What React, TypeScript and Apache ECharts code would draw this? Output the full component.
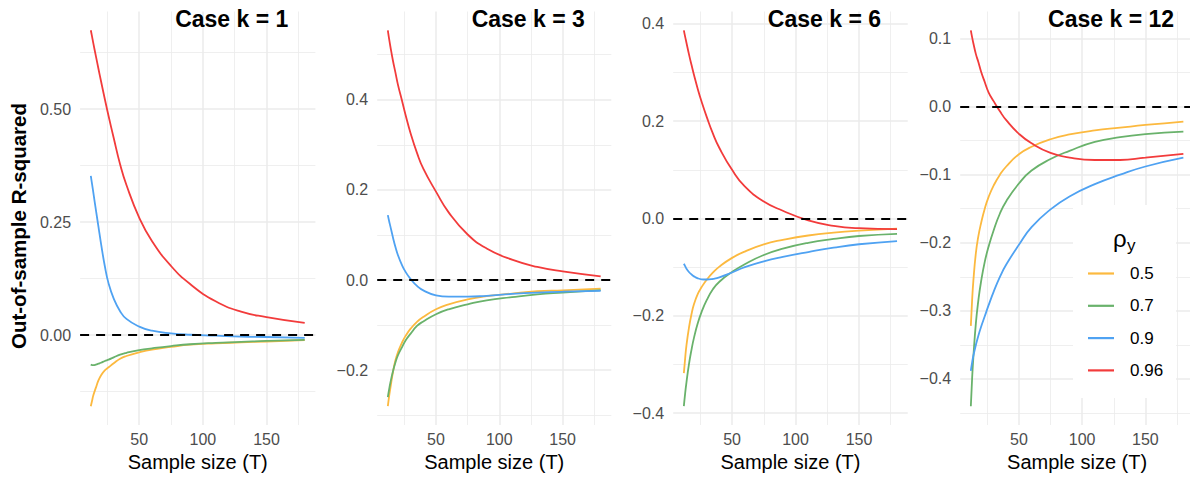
import React, { useEffect, useRef } from "react";
import * as echarts from "echarts";

// Sample sizes at which the curves were read
const T = [12, 13, 14, 16, 18, 20, 23, 26, 30, 35, 40, 50, 60, 75, 90, 110, 130, 150, 180];

const rhoLabels = ["0.5", "0.7", "0.9", "0.96"];
const caseTitles = ["Case k = 1", "Case k = 3", "Case k = 6", "Case k = 12"];

// Case k = 1
const k1_r05 = [-0.157, -0.145, -0.133, -0.116, -0.1, -0.089, -0.078, -0.071, -0.062, -0.052, -0.046, -0.038, -0.032, -0.026, -0.021, -0.018, -0.016, -0.014, -0.011];
const k1_r07 = [-0.065, -0.066, -0.066, -0.065, -0.063, -0.061, -0.057, -0.054, -0.049, -0.043, -0.039, -0.033, -0.029, -0.024, -0.02, -0.017, -0.015, -0.0126, -0.0104];
const k1_r09 = [0.352, 0.334, 0.315, 0.277, 0.24, 0.203, 0.153, 0.114, 0.081, 0.053, 0.036, 0.019, 0.01, 0.004, 0.001, -0.001, -0.003, -0.004, -0.006];
const k1_r096 = [0.674, 0.66, 0.645, 0.617, 0.589, 0.562, 0.522, 0.484, 0.436, 0.378, 0.332, 0.26, 0.208, 0.153, 0.113, 0.075, 0.052, 0.04, 0.027];

// Case k = 3
const k3_r05 = [-0.28, -0.258, -0.24, -0.205, -0.178, -0.16, -0.14, -0.124, -0.108, -0.093, -0.082, -0.065, -0.054, -0.043, -0.036, -0.03, -0.025, -0.023, -0.019];
const k3_r07 = [-0.26, -0.243, -0.228, -0.203, -0.183, -0.167, -0.15, -0.134, -0.119, -0.102, -0.092, -0.076, -0.065, -0.054, -0.045, -0.038, -0.032, -0.028, -0.0225];
const k3_r09 = [0.144, 0.131, 0.119, 0.095, 0.073, 0.055, 0.034, 0.018, 0.002, -0.013, -0.023, -0.034, -0.037, -0.037, -0.035, -0.031, -0.028, -0.026, -0.024];
const k3_r096 = [0.554, 0.535, 0.518, 0.487, 0.46, 0.433, 0.4, 0.366, 0.325, 0.282, 0.247, 0.196, 0.15, 0.101, 0.07, 0.045, 0.029, 0.019, 0.008];

// Case k = 6
const k6_r05 = [-0.318, -0.288, -0.262, -0.225, -0.197, -0.176, -0.155, -0.141, -0.126, -0.111, -0.099, -0.081, -0.068, -0.053, -0.044, -0.035, -0.029, -0.025, -0.021];
const k6_r07 = [-0.386, -0.36, -0.338, -0.3, -0.27, -0.245, -0.215, -0.192, -0.168, -0.145, -0.13, -0.11, -0.094, -0.075, -0.062, -0.05, -0.042, -0.036, -0.0315];
const k6_r09 = [-0.093, -0.098, -0.103, -0.11, -0.115, -0.119, -0.123, -0.125, -0.1255, -0.124, -0.121, -0.111, -0.1, -0.088, -0.079, -0.069, -0.06, -0.053, -0.0465];
const k6_r096 = [0.387, 0.374, 0.362, 0.338, 0.316, 0.295, 0.266, 0.24, 0.209, 0.174, 0.145, 0.1, 0.066, 0.035, 0.016, -0.004, -0.015, -0.02, -0.022];

// Case k = 12
const k12_r05 = [-0.322, -0.285, -0.256, -0.215, -0.19, -0.172, -0.15, -0.133, -0.116, -0.1, -0.088, -0.07, -0.059, -0.048, -0.041, -0.035, -0.031, -0.027, -0.022];
const k12_r07 = [-0.44, -0.4, -0.368, -0.318, -0.284, -0.258, -0.228, -0.206, -0.182, -0.157, -0.139, -0.113, -0.094, -0.077, -0.065, -0.052, -0.045, -0.0406, -0.0368];
const k12_r09 = [-0.388, -0.376, -0.366, -0.35, -0.336, -0.324, -0.308, -0.292, -0.272, -0.25, -0.232, -0.203, -0.177, -0.151, -0.132, -0.114, -0.1, -0.088, -0.075];
const k12_r096 = [0.112, 0.102, 0.093, 0.077, 0.065, 0.052, 0.036, 0.021, 0.008, -0.007, -0.02, -0.04, -0.054, -0.068, -0.075, -0.0785, -0.0785, -0.075, -0.0696];

// Tick values
const xMajor = [50, 100, 150];
const xMinor = [25, 75, 125, 175];
const yMajor1 = [0, 0.25, 0.5];
const yMinor1 = [-0.125, 0.125, 0.375, 0.625];
const yMajor2 = [-0.2, 0, 0.2, 0.4];
const yMinor2 = [-0.3, -0.1, 0.1, 0.3, 0.5];
const yMajor3 = [-0.4, -0.2, 0, 0.2, 0.4];
const yMinor3 = [-0.3, -0.1, 0.1, 0.3];
const yMajor4 = [-0.4, -0.3, -0.2, -0.1, 0, 0.1];
const yMinor4 = [-0.45, -0.35, -0.25, -0.15, -0.05, 0.05];
const yDecimals = [2, 1, 1, 1];

const panelSeries = [
  [k1_r05, k1_r07, k1_r09, k1_r096],
  [k3_r05, k3_r07, k3_r09, k3_r096],
  [k6_r05, k6_r07, k6_r09, k6_r096],
  [k12_r05, k12_r07, k12_r09, k12_r096],
];
const panelYMajor = [yMajor1, yMajor2, yMajor3, yMajor4];
const panelYMinor = [yMinor1, yMinor2, yMinor3, yMinor4];

const COLORS = ["#FCB93F", "#69B26B", "#4FA2F2", "#F23B3B"];
const FONT = "'Liberation Sans', Arial, Helvetica, sans-serif";
const GRIDS = [
  { left: 80.1, width: 235.3 },
  { left: 377.2, width: 234.1 },
  { left: 673.2, width: 234.5 },
  { left: 960.2, width: 233.8 },
];
const GRID_TOP = 11.5;
const GRID_H = 413.5;

function expand(lo: number, hi: number) {
  const r = hi - lo;
  return [lo - 0.05 * r, hi + 0.05 * r];
}

export default function App() {
  const ref = useRef<HTMLDivElement>(null);

  useEffect(() => {
    if (!ref.current) return;
    const chart = echarts.init(ref.current, undefined, { renderer: "svg" });

    const [xMin, xMax] = expand(T[0], T[T.length - 1]);
    const grid: any[] = [];
    const xAxis: any[] = [];
    const yAxis: any[] = [];
    const series: any[] = [];
    const graphic: any[] = [];

    panelSeries.forEach((sets, p) => {
      const g = GRIDS[p];
      grid.push({ left: g.left, top: GRID_TOP, width: g.width, height: GRID_H, outerBoundsMode: "none", containLabel: false });
      const all = sets.flat().concat([0]);
      const [yMin, yMax] = expand(Math.min(...all), Math.max(...all));
      const dec = yDecimals[p];

      xAxis.push({
        type: "value", gridIndex: p, min: xMin, max: xMax, position: "bottom",
        axisLine: { show: false },
        axisTick: { show: false, customValues: xMajor },
        axisLabel: { customValues: xMajor, color: "#4D4D4D", fontSize: 16, fontFamily: FONT, margin: 6 },
        splitLine: { show: true, lineStyle: { color: "#EBEBEB", width: 1.5 } },
        name: "Sample size (T)", nameLocation: "middle", nameGap: 27,
        nameTextStyle: { color: "#000", fontSize: 20, fontFamily: FONT },
      });
      xAxis.push({
        type: "value", gridIndex: p, min: xMin, max: xMax, position: "top",
        axisLine: { show: false },
        axisTick: { show: false, customValues: xMinor },
        axisLabel: { show: false, customValues: xMinor },
        splitLine: { show: true, lineStyle: { color: "#EBEBEB", width: 0.8 } },
      });
      yAxis.push({
        type: "value", gridIndex: p, min: yMin, max: yMax, position: "left",
        axisLine: { show: false },
        axisTick: { show: false, customValues: panelYMajor[p] },
        axisLabel: {
          customValues: panelYMajor[p], color: "#4D4D4D", fontSize: 16, fontFamily: FONT, margin: 9,
          formatter: (v: number) => v.toFixed(dec).replace("-", "\u2212"),
        },
        splitLine: { show: true, lineStyle: { color: "#EBEBEB", width: 1.5 } },
      });
      yAxis.push({
        type: "value", gridIndex: p, min: yMin, max: yMax, position: "right",
        axisLine: { show: false },
        axisTick: { show: false, customValues: panelYMinor[p] },
        axisLabel: { show: false, customValues: panelYMinor[p] },
        splitLine: { show: true, lineStyle: { color: "#EBEBEB", width: 0.8 } },
      });

      sets.forEach((vals, i) => {
        const s: any = {
          type: "line", name: rhoLabels[i], xAxisIndex: 2 * p, yAxisIndex: 2 * p,
          data: T.map((t, j) => [t, vals[j]]),
          smooth: 0.5, symbol: "none", showSymbol: false,
          lineStyle: { color: COLORS[i], width: 1.8 }, itemStyle: { color: COLORS[i] },
          z: 3, silent: true,
        };
        if (i === 3) {
          s.markLine = {
            silent: true, symbol: "none", label: { show: false },
            lineStyle: { color: "#000", type: [9, 7], width: 2 },
            data: [{ yAxis: 0 }],
          };
        }
        series.push(s);
      });

      graphic.push({
        type: "text", x: g.left + g.width / 2 + 34, y: 19, z: 10,
        style: { text: caseTitles[p], fill: "#000", font: `bold 23px ${FONT}`, textAlign: "center", textVerticalAlign: "middle" },
      });
    });

    graphic.push({
      type: "text", x: 18, y: 226, rotation: Math.PI / 2, z: 10,
      style: { text: "Out-of-sample R-squared", fill: "#000", font: `bold 20.5px ${FONT}`, textAlign: "center", textVerticalAlign: "middle" },
    });
    graphic.push({
      type: "text", x: 1113, y: 238, z: 20,
      style: { text: "\u03C1", fill: "#000", font: `24px ${FONT}`, textAlign: "left", textVerticalAlign: "middle" },
    });
    graphic.push({
      type: "text", x: 1127, y: 245, z: 20,
      style: { text: "y", fill: "#000", font: `17px ${FONT}`, textAlign: "left", textVerticalAlign: "middle" },
    });

    chart.setOption({
      animation: false,
      backgroundColor: "#fff",
      grid, xAxis, yAxis, series, graphic,
      legend: {
        data: rhoLabels.map((n) => ({ name: n, icon: "rect" })),
        orient: "vertical", left: 1073, top: 205,
        padding: [60, 13, 19, 15], itemWidth: 26, itemHeight: 2.2, itemGap: 15.3,
        backgroundColor: "#fff", selectedMode: false, z: 10,
        textStyle: { fontSize: 17, color: "#000", fontFamily: FONT, padding: [0, 0, 0, 11] },
      },
    });

    return () => chart.dispose();
  }, []);

  return <div ref={ref} style={{ position: "absolute", left: 0, top: 0, width: 1190, height: 477 }} />;
}
